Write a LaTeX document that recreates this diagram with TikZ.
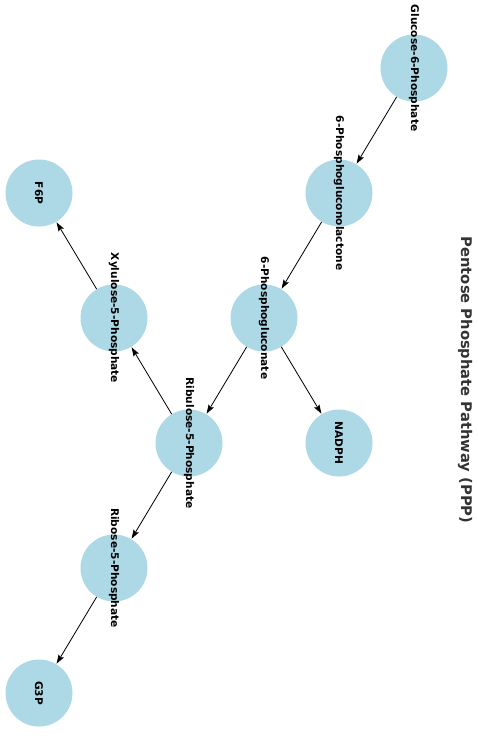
\documentclass[tikz,border=0pt]{standalone}
\usepackage{fontspec}
\setmainfont{DejaVu Sans}
\usetikzlibrary{arrows.meta}

\begin{document}
\begin{tikzpicture}[x=1pt,y=-1pt,
  metabolite/.style={circle,fill=lightblue,minimum size=67pt,inner sep=0pt},
  caption/.style={font=\bfseries\fontsize{10.6}{12}\selectfont,rotate=-90},
  reaction/.style={-{Stealth[length=9pt,width=6pt,inset=1.5pt]},draw=black,line width=0.8pt,shorten >=0.5pt}]
  \definecolor{lightblue}{HTML}{ADD8E6}
  \definecolor{titlegrey}{HTML}{333333}
  \useasboundingbox (0,0) rectangle (478,741);

  % metabolites
  \node(g6p)  [metabolite] at (414,68)  {};
  \node(pgl)  [metabolite] at (339,193) {};
  \node(pg)   [metabolite] at (264,318) {};
  \node(nadph)[metabolite] at (339,443) {};
  \node(ru5p) [metabolite] at (189,443) {};
  \node(x5p)  [metabolite] at (114,318) {};
  \node(f6p)  [metabolite] at (39,193)  {};
  \node(r5p)  [metabolite] at (114,568) {};
  \node(g3p)  [metabolite] at (39,693)  {};

  % labels
  \node[caption] at (g6p)   {Glucose-6-Phosphate};
  \node[caption] at (pgl)   {6-Phosphogluconolactone};
  \node[caption] at (pg)    {6-Phosphogluconate};
  \node[caption] at (nadph) {NADPH};
  \node[caption] at (ru5p)  {Ribulose-5-Phosphate};
  \node[caption] at (x5p)   {Xylulose-5-Phosphate};
  \node[caption] at (f6p)   {F6P};
  \node[caption] at (r5p)   {Ribose-5-Phosphate};
  \node[caption] at (g3p)   {G3P};

  % reactions
  \draw[reaction] (g6p) -- (pgl);
  \draw[reaction] (pgl) -- (pg);
  \draw[reaction] (pg) -- (nadph);
  \draw[reaction] (pg) -- (ru5p);
  \draw[reaction] (ru5p) -- (x5p);
  \draw[reaction] (x5p) -- (f6p);
  \draw[reaction] (ru5p) -- (r5p);
  \draw[reaction] (r5p) -- (g3p);

  \node(title)[rotate=-90,text=titlegrey,font=\bfseries\fontsize{14.7}{17}\selectfont] at (465,380) {Pentose Phosphate Pathway (PPP)};
\end{tikzpicture}
\end{document}
